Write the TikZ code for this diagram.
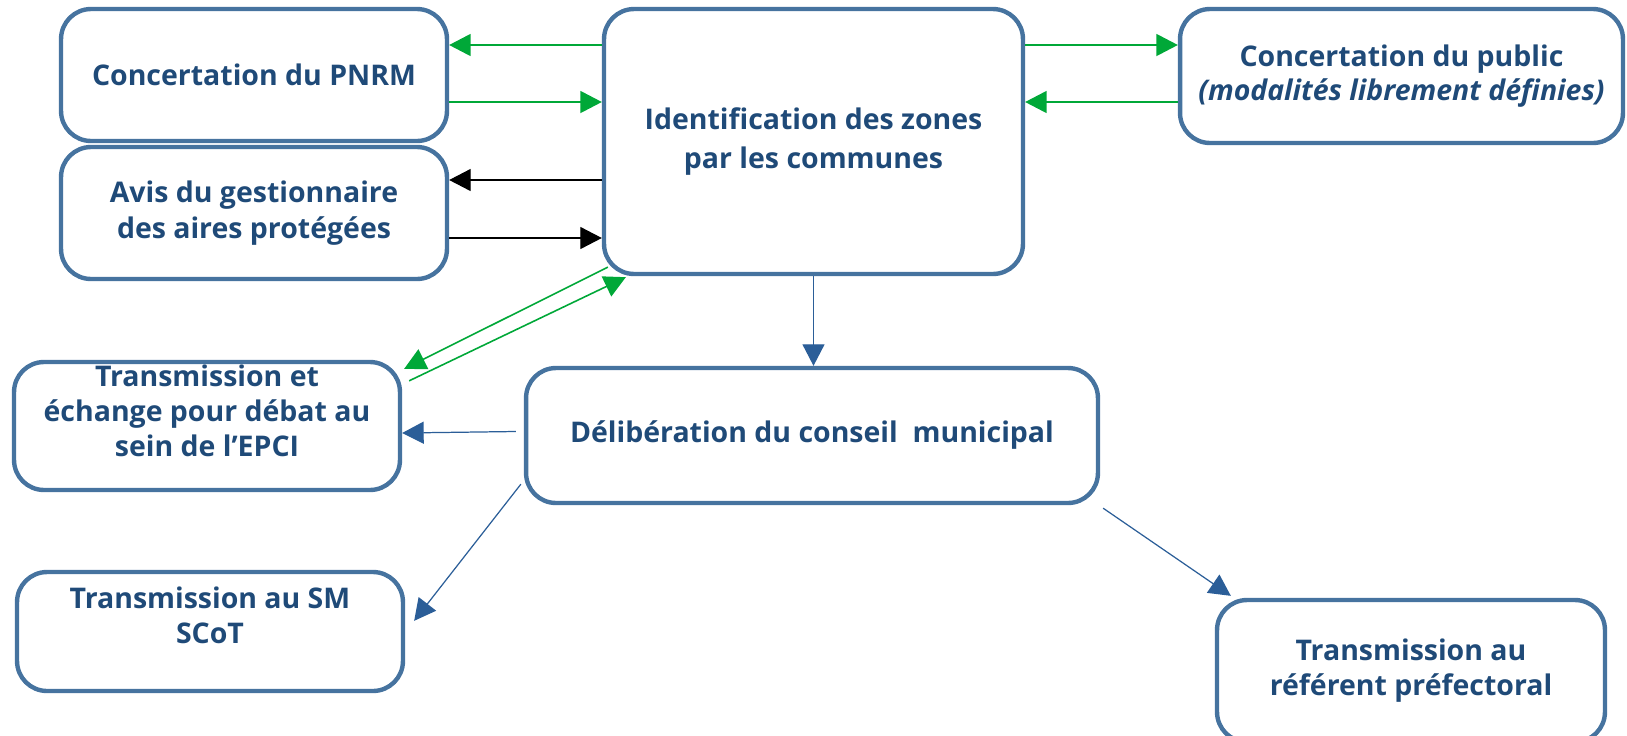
\documentclass[tikz,border=0pt]{standalone}
\usepackage{fontspec}
\setmainfont{Open Sans}
\usepackage{tikz}
\usetikzlibrary{arrows.meta,calc}
\definecolor{boxline}{HTML}{46739F}
\definecolor{boxtext}{HTML}{1F4A78}
\definecolor{arrgreen}{HTML}{00A838}
\definecolor{arrblue}{HTML}{2B5E98}

\begin{document}
\begin{tikzpicture}[x=0.02cm,y=-0.02cm,
    box/.style={draw=boxline,line width=2.5pt,rounded corners=0.6cm,align=center,
      text=boxtext,font=\bfseries\fontsize{16.2}{20}\selectfont,inner sep=0pt},
    garrow/.style={-{Triangle[length=0.43cm,width=0.44cm]},draw=arrgreen,fill=arrgreen,line width=0.9pt},
    karrow/.style={-{Triangle[length=0.43cm,width=0.44cm]},draw=black,line width=0.7pt},
    barrow/.style={-{Triangle[length=0.43cm,width=0.44cm]},draw=arrblue,line width=0.7pt}]
    \useasboundingbox (0,0) rectangle (1627,735);

    \node[box,minimum width=7.72cm,minimum height=2.64cm] (pnrm) at (254,75) {Concertation du PNRM};
    \node[box,minimum width=7.72cm,minimum height=2.64cm,font=\bfseries\fontsize{16.2}{20.5}\selectfont] (avis) at (254,213) {Avis du gestionnaire\\des aires protégées};
    \node[box,minimum width=8.38cm,minimum height=5.3cm,font=\bfseries\fontsize{16.2}{22.5}\selectfont] (ident) at (813.5,141.5) {Identification des zones\\par les communes};
    \node[box,minimum width=8.86cm,minimum height=2.68cm,font=\bfseries\fontsize{16.2}{19}\selectfont] (public) at (1401.5,76) {Concertation du public\\\textit{(modalités librement définies)}};
    \node[box,minimum width=7.72cm,minimum height=2.56cm,text depth=0.6cm] (trans) at (207,426) {Transmission et\\échange pour débat au\\sein de l’EPCI};
    \node[box,minimum width=11.44cm,minimum height=2.7cm] (delib) at (812,435.5) {Délibération du conseil~~municipal};
    \node[box,minimum width=7.72cm,minimum height=2.38cm,text depth=0.66cm] (scot) at (210,631.5) {Transmission au SM\\SCoT};
    \node[box,minimum width=7.76cm,minimum height=2.84cm] (refer) at (1411,671) {Transmission au\\référent préfectoral};

    \draw[garrow] (ident.west |- 0,45) -- (pnrm.east |- 0,45);
    \draw[garrow] (pnrm.east |- 0,102) -- (ident.west |- 0,102);
    \draw[garrow] (ident.east |- 0,45) -- (public.west |- 0,45);
    \draw[garrow] (public.west |- 0,102) -- (ident.east |- 0,102);
    \draw[karrow] (ident.west |- 0,180) -- (avis.east |- 0,180);
    \draw[karrow] (avis.east |- 0,238) -- (ident.west |- 0,238);
    \draw[garrow] ([shift={(6,-9)}]ident.south west) -- ([shift={(2,9)}]trans.north east);
    \draw[garrow] ([shift={(7,21)}]trans.north east) -- ([shift={(24,1)}]ident.south west);
    \draw[barrow] (ident.south) -- (ident.south |- delib.north);
    \draw[barrow] ([shift={(-8,-4)}]delib.west) -- ([shift={(0,7)}]trans.east);
    \draw[barrow] ([shift={(-3,-21)}]delib.south west) -- ([shift={(9,51)}]scot.north east);
    \draw[barrow] ([shift={(3,3)}]delib.south east) -- ([shift={(16,-2)}]refer.north west);
  \end{tikzpicture}
\end{document}
